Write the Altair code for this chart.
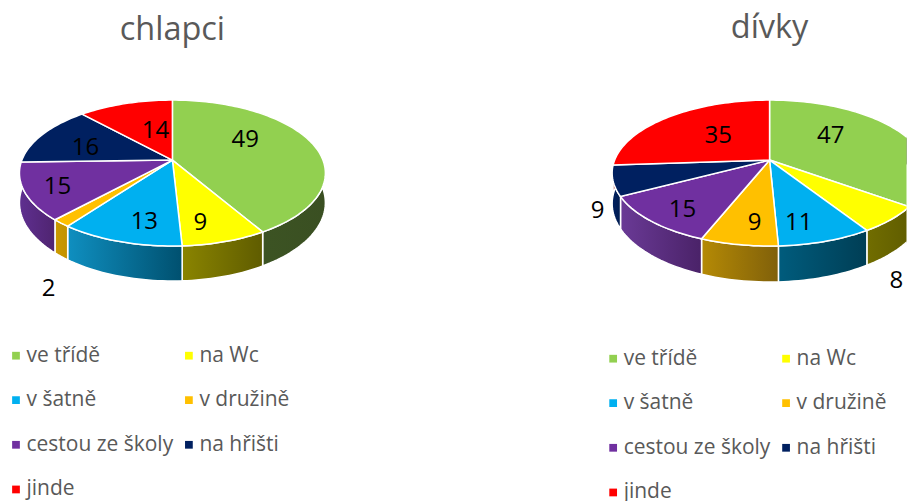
import math
import altair as alt
import pandas as pd

categories = ["ve třídě", "na Wc", "v šatně", "v družině", "cestou ze školy", "na hřišti", "jinde"]
colors = ["#92D050", "#FFFF00", "#00B0F0", "#FFC000", "#7030A0", "#002060", "#FF0000"]

boys_values = [49, 9, 13, 2, 15, 16, 14]
girls_values = [47, 8, 11, 9, 15, 9, 35]

boys_walls = [("#3F5A25", "#3A4F22"), ("#8A8400", "#5F5C00"), ("#0F8FC0", "#00506F"),
              ("#CC9A00", "#C29200"), ("#5F2F90", "#4F2470"), ("#002060", "#002060"), ("#800000", "#800000")]
girls_walls = [("#3F5A25", "#3A4F22"), ("#716D00", "#605D00"), ("#005C7D", "#003E55"),
               ("#B58A05", "#80600A"), ("#6A3A96", "#4A2268"), ("#002060", "#001C50"), ("#800000", "#800000")]

# label shift from the slice's mid-angle point at 60 % radius
boys_shift = [(-12, -11), (-1, 16), (1, 15), (-61, 91), (-29, 7), (-7, 2), (13, 5)]
girls_shift = [(-18, -8), (58, 85), (-2, 16), (2, 14), (-20, 14), (-80, 37), (12, 1)]

H = 490
TILT = 0.178


def project(theta, r, geo):
    u, v = math.sin(theta) * r, math.cos(theta) * r
    w = 1 + TILT * v
    return geo["cx"] + geo["a"] * u / w, geo["cy"] - geo["b"] * v / w, w


def build_frames(values, geo):
    total = sum(values)
    tops, walls, labels = [], [], []
    cum = 0
    for idx, (cat, val) in enumerate(zip(categories, values)):
        t1 = 2 * math.pi * cum / total
        t2 = 2 * math.pi * (cum + val) / total
        cum += val
        n = max(3, int((t2 - t1) / math.radians(1.5)))
        arc = [t1 + (t2 - t1) * k / n for k in range(n + 1)]
        i = 0
        x0, y0, _ = project(0, 0, geo)
        tops.append(dict(cat=cat, i=i, x=x0, y=y0))
        for t in arc:
            i += 1
            x, y, _ = project(t, 1, geo)
            tops.append(dict(cat=cat, i=i, x=x, y=y))
        i += 1
        tops.append(dict(cat=cat, i=i, x=x0, y=y0))
        ring = []
        for t in arc:
            x, y, w = project(t, 1, geo)
            ring.append((x, y))
        for t in reversed(arc):
            x, y, w = project(t, 1, geo)
            ring.append((x, y + geo["k"] / w))
        ring.append(ring[0])
        for j, (x, y) in enumerate(ring):
            walls.append(dict(cat=cat, i=j, x=x, y=y))
        mid = (t1 + t2) / 2
        lx, ly, _ = project(mid, 0.6, geo)
        labels.append(dict(cat=cat, value=val, x=lx + geo["shift"][idx][0], y=ly + geo["shift"][idx][1]))
    return pd.DataFrame(tops), pd.DataFrame(walls), pd.DataFrame(labels)


def panel(values, title, geo, width, wall_cols, legend_x, legend_y):
    tops, walls, labels = build_frames(values, geo)
    xs = alt.X("x:Q", axis=None, scale=alt.Scale(domain=[0, width], nice=False, zero=False))
    ys = alt.Y("y:Q", axis=None, scale=alt.Scale(domain=[H, 0], nice=False, zero=False))
    layers = []
    for cat, (c1, c2) in zip(categories, wall_cols):
        grad = alt.LinearGradient(gradient="linear", x1=0, x2=1, y1=0, y2=0,
                                  stops=[alt.GradientStop(color=c1, offset=0),
                                         alt.GradientStop(color=c2, offset=1)])
        layers.append(
            alt.Chart(walls[walls.cat == cat]).mark_line(fill=grad, stroke="white", strokeWidth=1.5, clip=True)
            .encode(x=xs, y=ys, order="i:Q")
        )
    legend = alt.Legend(
        orient="none", legendX=legend_x, legendY=legend_y, columns=2, title=None, direction="horizontal",
        symbolType="square", symbolSize=60, symbolStrokeWidth=0, padding=0,
        labelFont="Open Sans", labelFontSize=21, labelColor="#595959", labelLimit=300,
        rowPadding=22.7, columnPadding=5, labelOffset=0,
    )
    layers.append(
        alt.Chart(tops).mark_line(stroke="white", strokeWidth=1.5, clip=True).encode(
            x=xs, y=ys, order="i:Q",
            fill=alt.Fill("cat:N", scale=alt.Scale(domain=categories, range=colors), legend=legend),
        )
    )
    layers.append(
        alt.Chart(labels).mark_text(font="Open Sans", fontSize=24, color="#000000", dy=2).encode(
            x=xs, y=ys, text="value:Q")
    )
    layers.append(
        alt.Chart(pd.DataFrame([dict(t=title, x=geo["cx"], y=geo["ty"])])).mark_text(
            font="Open Sans", fontSize=geo["tsize"], color="#595959").encode(x=xs, y=ys, text="t:N")
    )
    return alt.layer(*layers).properties(width=width, height=H)


left = panel(boys_values, "chlapci",
             dict(cx=167, cy=152, a=150.6, b=70.7, k=28.8, shift=boys_shift, ty=22, tsize=32.5),
             450, boys_walls, 0, 337)
right = panel(girls_values, "dívky",
              dict(cx=314.5, cy=152, a=155, b=70.7, k=29.6, shift=girls_shift, ty=20, tsize=32.5),
              451.5, girls_walls, 147.5, 340)

chart = alt.hconcat(left, right, spacing=0).resolve_scale(fill="independent").configure(
    padding={"left": -2.5, "top": 0, "right": 0, "bottom": 0}, background="white"
).configure_view(stroke=None)

chart.save("out.html", embed_options={"renderer": "svg", "actions": False})
